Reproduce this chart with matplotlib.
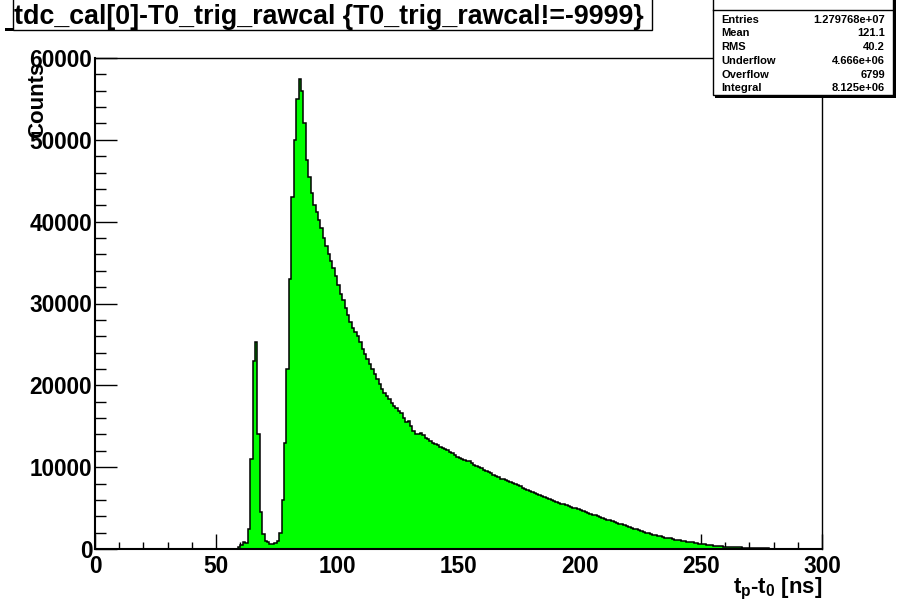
import numpy as np
import matplotlib
matplotlib.use("Agg")
import matplotlib.pyplot as plt
from matplotlib.patches import Rectangle
from matplotlib.ticker import MultipleLocator

plt.rcParams['font.family'] = ['Liberation Sans', 'DejaVu Sans']
plt.rcParams['mathtext.fontset'] = 'custom'
plt.rcParams['mathtext.rm'] = 'Liberation Sans:bold'
plt.rcParams['mathtext.it'] = 'Liberation Sans:bold'
plt.rcParams['mathtext.bf'] = 'Liberation Sans:bold'

# ---------------- data ----------------
title = "tdc_cal[0]-T0_trig_rawcal {T0_trig_rawcal!=-9999}"
x_label = r"$t_{p}$-$t_{0}$ [ns]"
y_label = "Counts"
bin_start = 55          # ns, left edge of first listed bin
bin_width = 1           # ns
counts = [
    0, 0, 30, 60, 250, 500, 900, 700, 2500, 11000,            # 55-64
    23000, 25300, 14000, 4500, 1800, 1000, 800, 650, 600, 700,  # 65-74
    1000, 2000, 6000, 13000, 22000, 33000, 43000, 50000, 55000, 57400,  # 75-84
    56000, 52000, 47500, 45500, 43500, 42000, 41200, 40200, 39200, 38000,  # 85-94
    37000, 36000, 35200, 34300, 33300, 32300, 31200, 30400, 29500, 28600,  # 95-104
    27700, 27000, 26500, 26000, 25300, 24500, 23800, 23200, 22600, 22000,  # 105-114
    21400, 20800, 20200, 19600, 19100, 18700, 18300, 17900, 17500, 17200,  # 115-124
    16900, 16600, 16000, 15500, 15600, 15000, 14400, 14100, 14000, 14200,  # 125-134
    13900, 13600, 13400, 13200, 13000, 12800, 12700, 12500, 12350, 12200,  # 135-144
    12050, 11900, 11700, 11500, 11300, 11150, 11000, 10900, 10800, 10700,  # 145-154
    10500, 10300, 10150, 10000, 9900, 9700, 9500, 9350, 9250, 9050,        # 155-164
    8900, 8750, 8600, 8500, 8400, 8300, 8200, 8050, 7900, 7800,            # 165-174
    7650, 7500, 7350, 7200, 7100, 6950, 6850, 6700, 6600, 6500,            # 175-184
    6350, 6250, 6100, 6000, 5900, 5750, 5650, 5550, 5450, 5350,            # 185-194
    5250, 5150, 5050, 4950, 4850, 4750, 4650, 4500, 4400, 4300,            # 195-204
    4200, 4100, 4000, 3900, 3800, 3700, 3600, 3500, 3400, 3300,            # 205-214
    3200, 3100, 3000, 2900, 2800, 2700, 2600, 2500, 2400, 2300,            # 215-224
    2200, 2100, 2000, 1950, 1850, 1750, 1700, 1600, 1550, 1450,            # 225-234
    1400, 1350, 1300, 1250, 1150, 1100, 1050, 1000, 950, 900,              # 235-244
    850, 800, 750, 700, 650, 600, 550, 500, 470, 430,                      # 245-254
    400, 370, 340, 310, 290, 270, 250, 230, 220, 210,                      # 255-264
    200, 190, 180, 170, 160, 150, 140, 130, 120, 110,                      # 265-274
    100, 90, 80, 60, 50, 40, 30, 20, 10, 0,                                # 275-284
]
stat_names = ["Entries", "Mean", "RMS", "Underflow", "Overflow", "Integral"]
stat_values = ["1.279768e+07", "121.1", "40.2", "4.666e+06", "6799", "8.125e+06"]
x_range = (0, 300)
y_range = (0, 60000)

# ---------------- figure ----------------
W, H = 897, 609
fig = plt.figure(figsize=(W / 100, H / 100), dpi=100)
fig.patch.set_facecolor('white')

def fx(px):
    return px / W

def fy(py):
    return 1 - py / H

ax_l, ax_r, ax_t, ax_b = 95, 822, 58, 549
ax = fig.add_axes([fx(ax_l), fy(ax_b), (ax_r - ax_l) / W, (ax_b - ax_t) / H])

edges = bin_start + bin_width * np.arange(len(counts) + 1)
ax.stairs(counts, edges, fill=True, color='#00ff00', zorder=2)
ax.stairs(counts, edges, color='black', linewidth=1.1, zorder=3)

ax.set_xlim(*x_range)
ax.set_ylim(*y_range)

ax.xaxis.set_major_locator(MultipleLocator(50))
ax.xaxis.set_minor_locator(MultipleLocator(10))
ax.yaxis.set_major_locator(MultipleLocator(10000))
ax.yaxis.set_minor_locator(MultipleLocator(2000))

ax.tick_params(axis='both', which='both', direction='in', top=False, right=False,
               width=1.0, colors='black')
ax.tick_params(axis='x', which='major', length=10.6, pad=4, labelsize=16.3)
ax.tick_params(axis='x', which='minor', length=5.3)
ax.tick_params(axis='y', which='major', length=15.7, pad=2, labelsize=16.3)
ax.tick_params(axis='y', which='minor', length=7.9)
for lab in ax.get_xticklabels() + ax.get_yticklabels():
    lab.set_fontweight('bold')

for side in ['left', 'bottom']:
    ax.spines[side].set_linewidth(1.5)
for side in ['top', 'right']:
    ax.spines[side].set_linewidth(1.0)

# axis titles
fig.text(fx(822), fy(593), x_label, ha='right', va='baseline', fontsize=16,
         fontweight='bold')
fig.text(fx(38), fy(62), y_label, rotation=90, ha='center', va='top', fontsize=16,
         fontweight='bold')

# title box
fig.patches.append(Rectangle((fx(5), fy(31)), fx(640), 3 / H, transform=fig.transFigure,
                             facecolor='black', edgecolor='none', zorder=5))
fig.patches.append(Rectangle((fx(12.7), fy(30)), fx(652 - 12.7), 32 / H,
                             transform=fig.transFigure, facecolor='white',
                             edgecolor='black', linewidth=1.0, zorder=6))
fig.text(fx(13.5), fy(24), title, ha='left', va='baseline', fontsize=19.3,
         fontweight='bold', zorder=7)

# stats box
bx0, bx1, by0, by1 = 712.7, 893, -2, 95
fig.patches.append(Rectangle((fx(bx0 + 2.5), fy(by1 + 2.5)), fx(bx1 - bx0), (by1 - by0) / H,
                             transform=fig.transFigure, facecolor='black',
                             edgecolor='none', zorder=5))
fig.patches.append(Rectangle((fx(bx0), fy(by1)), fx(bx1 - bx0), (by1 - by0) / H,
                             transform=fig.transFigure, facecolor='white',
                             edgecolor='black', linewidth=1.0, zorder=6))
fig.lines.append(plt.Line2D([fx(bx0), fx(bx1)], [fy(10), fy(10)], transform=fig.transFigure,
                            color='black', linewidth=1.0, zorder=7))
row_y = [20, 33.5, 47.5, 61.5, 74.5, 88]
for name, val, yy in zip(stat_names, stat_values, row_y):
    fig.text(fx(721.5), fy(yy), name, ha='left', va='center', fontsize=8,
             fontweight='bold', zorder=8)
    fig.text(fx(885), fy(yy), val, ha='right', va='center', fontsize=8,
             fontweight='bold', zorder=8)

fig.savefig('out.png', dpi=100)
